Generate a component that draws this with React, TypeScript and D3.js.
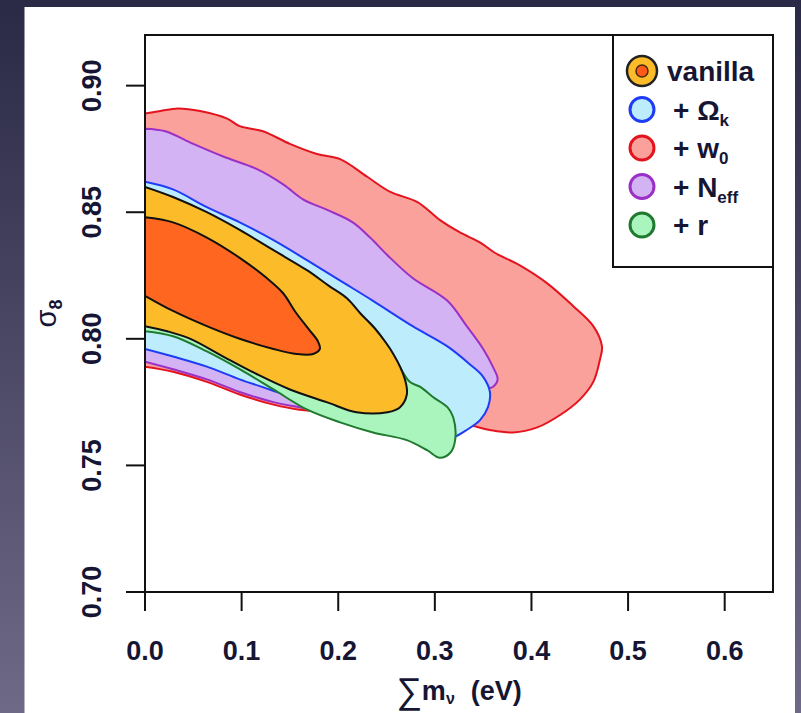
import React from "react";
import * as d3 from "d3";

const W = 801;
const H = 713;

// axis ticks
const xTicks = [0.0, 0.1, 0.2, 0.3, 0.4, 0.5, 0.6];
const yTicks = [0.7, 0.75, 0.8, 0.85, 0.9];

// 95% contour, + w0  [sum m_nu, sigma8]
const w0Contour = [
  [0, 0.889], [0.016, 0.89], [0.034, 0.891], [0.057, 0.89], [0.085, 0.887], [0.098, 0.884],
  [0.122, 0.882], [0.15, 0.877], [0.178, 0.873], [0.202, 0.871], [0.23, 0.864], [0.254, 0.858],
  [0.282, 0.854], [0.305, 0.847], [0.326, 0.842], [0.347, 0.838], [0.362, 0.834], [0.388, 0.829],
  [0.416, 0.822], [0.443, 0.813], [0.464, 0.805], [0.473, 0.797], [0.471, 0.792], [0.464, 0.783],
  [0.45, 0.776], [0.43, 0.77], [0.406, 0.765], [0.381, 0.763], [0.357, 0.764], [0.336, 0.766],
  [0.316, 0.768], [0.285, 0.77], [0.243, 0.771], [0.202, 0.771], [0.16, 0.772], [0.133, 0.774],
  [0.098, 0.778], [0.064, 0.783], [0.029, 0.787], [0, 0.789],
];

// + N_eff
const nEffContour = [
  [0, 0.883], [0.021, 0.882], [0.05, 0.877], [0.081, 0.872], [0.116, 0.867], [0.143, 0.861],
  [0.164, 0.855], [0.188, 0.851], [0.215, 0.846], [0.233, 0.84], [0.251, 0.833], [0.277, 0.824],
  [0.313, 0.815], [0.333, 0.805], [0.35, 0.796], [0.36, 0.789], [0.365, 0.784], [0.36, 0.781],
  [0.352, 0.78], [0.336, 0.772], [0.305, 0.768], [0.264, 0.766], [0.223, 0.768], [0.192, 0.771],
  [0.16, 0.773], [0.133, 0.775], [0.098, 0.779], [0.064, 0.784], [0.029, 0.788], [0, 0.791],
];

// + Omega_k
const omegaKContour = [
  [0, 0.862], [0.029, 0.859], [0.064, 0.852], [0.098, 0.846], [0.133, 0.839], [0.168, 0.831],
  [0.202, 0.823], [0.236, 0.815], [0.277, 0.805], [0.313, 0.797], [0.336, 0.79], [0.35, 0.785],
  [0.357, 0.779], [0.355, 0.773], [0.347, 0.768], [0.333, 0.764], [0.319, 0.761], [0.305, 0.76],
  [0.285, 0.762], [0.243, 0.766], [0.202, 0.771], [0.16, 0.776], [0.129, 0.78], [0.098, 0.784],
  [0.064, 0.789], [0.029, 0.793], [0, 0.796],
];

// + r
const rContour = [
  [0, 0.853], [0.064, 0.845], [0.133, 0.831], [0.188, 0.818], [0.236, 0.805], [0.259, 0.792],
  [0.274, 0.783], [0.285, 0.781], [0.298, 0.777], [0.313, 0.773], [0.319, 0.769], [0.321, 0.76],
  [0.316, 0.755], [0.305, 0.753], [0.292, 0.756], [0.271, 0.76], [0.236, 0.763], [0.202, 0.767],
  [0.168, 0.772], [0.133, 0.78], [0.098, 0.788], [0.064, 0.795], [0.029, 0.801], [0, 0.803],
];

// vanilla 95%
const vanilla95 = [
  [0, 0.86], [0.029, 0.856], [0.064, 0.85], [0.098, 0.843], [0.133, 0.835], [0.168, 0.827],
  [0.19, 0.821], [0.209, 0.816], [0.223, 0.81], [0.238, 0.804], [0.257, 0.794], [0.269, 0.784],
  [0.271, 0.778], [0.264, 0.773], [0.251, 0.771], [0.219, 0.771], [0.188, 0.775], [0.15, 0.78],
  [0.116, 0.786], [0.081, 0.793], [0.047, 0.8], [0.023, 0.803], [0, 0.805],
];

// vanilla 68%
const vanilla68 = [
  [0, 0.848], [0.029, 0.846], [0.064, 0.84], [0.098, 0.832], [0.126, 0.824], [0.143, 0.818],
  [0.155, 0.811], [0.169, 0.804], [0.179, 0.799], [0.181, 0.796], [0.174, 0.794], [0.157, 0.794],
  [0.133, 0.796], [0.098, 0.8], [0.064, 0.805], [0.029, 0.811], [0, 0.817],
];

const layers = [
  { pts: w0Contour, fill: "#FAA19B", stroke: "#E3141E" },
  { pts: nEffContour, fill: "#D3B3F3", stroke: "#9B2FC6" },
  { pts: omegaKContour, fill: "#BDECFC", stroke: "#1E3CF5" },
  { pts: rContour, fill: "#AAF5BE", stroke: "#1F7A30" },
  { pts: vanilla95, fill: "#FCBC2A", stroke: "#111111" },
  { pts: vanilla68, fill: "#FF6620", stroke: "#111111" },
];

const legendItems = [
  { main: "+ Ω", sub: "k", fill: "#BDECFC", stroke: "#1E3CF5" },
  { main: "+ w", sub: "0", fill: "#FAA19B", stroke: "#E3141E" },
  { main: "+ N", sub: "eff", fill: "#D3B3F3", stroke: "#9B2FC6" },
  { main: "+ r", sub: "", fill: "#AAF5BE", stroke: "#1F7A30" },
];

const margin = { left: 145, right: 28, top: 35, bottom: 121 };
const font = "'Liberation Sans', Arial, Helvetica, sans-serif";
const ink = "#161634";

export default function App() {
  const x = d3.scaleLinear().domain([0, 0.65]).range([margin.left, W - margin.right]);
  const y = d3.scaleLinear().domain([0.7, 0.92]).range([H - margin.bottom, margin.top]);
  const line = d3
    .line<number[]>()
    .x((d) => x(d[0]))
    .y((d) => y(d[1]))
    .curve(d3.curveCatmullRom.alpha(0.5));

  const x0 = x(0), x1 = x(0.65), yb = y(0.7), yt = y(0.92);
  const legX = 613, legY = yt, legH = 232;
  const rowY = (i: number) => 71 + i * 38.5;

  return (
    <svg width={W} height={H} style={{ position: "absolute", left: 0, top: 0, display: "block" }}>
      <defs>
        <linearGradient id="bg" x1="0" y1="0" x2="0" y2="1">
          <stop offset="0" stopColor="#2a2946" />
          <stop offset="1" stopColor="#6e6986" />
        </linearGradient>
        <clipPath id="plot">
          <rect x={x0} y={yt} width={x1 - x0} height={yb - yt} />
        </clipPath>
      </defs>
      <rect width={W} height={H} fill="url(#bg)" />
      <rect x={24.5} y={7} width={770.5} height={H - 7} fill="#ffffff" />

      <g clipPath="url(#plot)">
        {layers.map((l, i) => (
          <path key={i} d={line(l.pts) + "Z"} fill={l.fill} stroke={l.stroke} strokeWidth={2} strokeLinejoin="round" />
        ))}
      </g>

      <rect x={x0} y={yt} width={x1 - x0} height={yb - yt} fill="none" stroke="#111" strokeWidth={2} />

      <g fontFamily={font} fontWeight="bold" fill={ink}>
        {xTicks.map((t) => (
          <g key={t}>
            <line x1={x(t)} x2={x(t)} y1={yb} y2={yb + 19} stroke="#111" strokeWidth={2} />
            <text x={x(t)} y={yb + 68} textAnchor="middle" fontSize={27}>
              {t.toFixed(1)}
            </text>
          </g>
        ))}
        {yTicks.map((t) => (
          <g key={t}>
            <line x1={x0} x2={x0 - 19} y1={y(t)} y2={y(t)} stroke="#111" strokeWidth={2} />
            <text transform={`translate(101,${y(t)}) rotate(-90)`} textAnchor="middle" fontSize={27}>
              {t.toFixed(2)}
            </text>
          </g>
        ))}

        <text transform={`translate(56,${(yt + yb) / 2}) rotate(-90)`} textAnchor="middle" fontSize={29} fontWeight="normal">
          σ<tspan fontSize={18} dy={6} fontWeight="bold">8</tspan>
        </text>

        <text x={(x0 + x1) / 2} y={700} textAnchor="middle" fontSize={27}>
          <tspan fontSize={36} dy={3} fontWeight="normal">∑</tspan>
          <tspan dy={-3}>m</tspan>
          <tspan fontSize={16} dy={4}>ν</tspan>
          <tspan dy={-4} dx={16}>(eV)</tspan>
        </text>

        <rect x={legX} y={legY} width={x1 - legX} height={legH} fill="#fff" stroke="#111" strokeWidth={2} />
        <circle cx={642} cy={rowY(0)} r={15} fill="#FCBC2A" stroke="#222" strokeWidth={2.5} />
        <circle cx={642} cy={rowY(0)} r={6} fill="#FF5A1A" stroke="#4a2a10" strokeWidth={1.5} />
        <text x={667} y={rowY(0) + 10} fontSize={28}>
          vanilla
        </text>
        {legendItems.map((d, i) => (
          <g key={d.main}>
            <circle cx={642} cy={rowY(i + 1)} r={12} fill={d.fill} stroke={d.stroke} strokeWidth={3} />
            <text x={673} y={rowY(i + 1) + 10} fontSize={28}>
              {d.main}
              {d.sub && (
                <tspan fontSize={17} dy={6}>
                  {d.sub}
                </tspan>
              )}
            </text>
          </g>
        ))}
      </g>
    </svg>
  );
}
